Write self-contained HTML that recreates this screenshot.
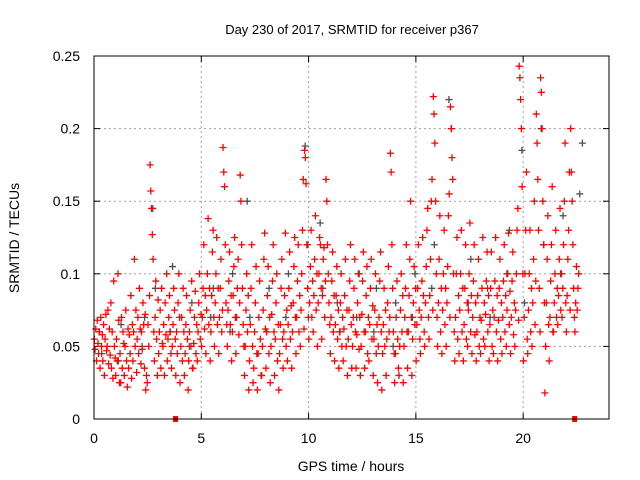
<!DOCTYPE html>
<html><head><meta charset="utf-8"><style>
html,body{margin:0;padding:0;background:#fff}
svg{display:block;font-family:"Liberation Sans",sans-serif}
</style></head><body>
<svg id="chart" width="640" height="480" viewBox="0 0 640 480">
<text x="352" y="34" font-size="13" text-anchor="middle" fill="#000">Day 230 of 2017, SRMTID for receiver p367</text>
<text x="351" y="471" font-size="14" text-anchor="middle">GPS time / hours</text>
<text transform="translate(19,238) rotate(-90)" font-size="14" text-anchor="middle">SRMTID / TECUs</text>
<g id="grid"></g>
<g id="ticks"></g>
<g id="grey"></g>
<g id="red"></g>
<rect x="94" y="56" width="515" height="363" fill="none" stroke="#000" stroke-width="1"/>
</svg>
<script>
const xTicks=[0,5,10,15,20];
const yTicks=[0,0.05,0.1,0.15,0.2,0.25];
const yTickLabels=["0","0.05","0.1","0.15","0.2","0.25"];
const markerHours=[3.8,22.4];
const redHours=[0.1,0.3,0.5,0.7,0.9,1.1,1.3,1.5,1.7,1.9,2.1,2.3,2.5,2.7,2.9,3.1,3.3,3.5,3.7,3.9,4.1,4.3,4.5,4.7,4.9,5.1,5.3,5.5,5.7,5.9,6.1,6.3,6.5,6.7,6.9,7.1,7.3,7.5,7.7,7.9,8.1,8.3,8.5,8.7,8.9,9.1,9.3,9.5,9.7,9.9,10.1,10.3,10.5,10.7,10.9,11.1,11.3,11.5,11.7,11.9,12.1,12.3,12.5,12.7,12.9,13.1,13.3,13.5,13.7,13.9,14.1,14.3,14.5,14.7,14.9,15.1,15.3,15.5,15.7,15.9,16.1,16.3,16.5,16.7,16.9,17.1,17.3,17.5,17.7,17.9,18.1,18.3,18.5,18.7,18.9,19.1,19.3,19.5,19.7,19.9,20.1,20.3,20.5,20.7,20.9,21.1,21.3,21.5,21.7,21.9,22.1,22.3,22.5,22.7,22.9];
const redValues=[
[0.055,0.048,0.062,0.04,0.068,0.052],[0.045,0.06,0.035,0.07,0.05,0.058],[0.04,0.065,0.03,0.055,0.072,0.047],[0.05,0.075,0.038,0.062,0.044,0.08],[0.035,0.06,0.028,0.095,0.05,0.042],
[0.03,0.055,0.04,0.1,0.068,0.025],[0.045,0.025,0.07,0.035,0.06,0.052],[0.03,0.05,0.075,0.04,0.022,0.062],[0.035,0.058,0.045,0.085,0.028,0.065],[0.04,0.06,0.11,0.05,0.075,0.032],
[0.055,0.07,0.045,0.09,0.062,0.038],[0.06,0.048,0.08,0.065,0.035,0.072],[0.02,0.03,0.025,0.065,0.05,0.085],[0.175,0.157,0.145,0.127,0.11,0.06],[0.04,0.07,0.095,0.055,0.03,0.082],
[0.045,0.06,0.075,0.035,0.09,0.052],[0.05,0.065,0.03,0.08,0.058,0.1],[0.04,0.055,0.07,0.085,0.06,0.045],[0.035,0.05,0.065,0.09,0.075,0.055],[0.03,0.06,0.045,0.08,0.1,0.07],
[0.025,0.05,0.07,0.04,0.09,0.06],[0.03,0.045,0.065,0.085,0.055,0.02],[0.04,0.06,0.075,0.05,0.095,0.035],[0.035,0.052,0.07,0.088,0.045,0.065],[0.04,0.06,0.08,0.1,0.055,0.072],
[0.05,0.07,0.09,0.12,0.062,0.085],[0.045,0.075,0.1,0.138,0.065,0.09],[0.04,0.06,0.085,0.115,0.13,0.07],[0.05,0.08,0.1,0.125,0.065,0.09],[0.045,0.07,0.09,0.11,0.06,0.075],
[0.187,0.17,0.16,0.12,0.08,0.065],[0.05,0.075,0.095,0.115,0.065,0.085],[0.04,0.06,0.085,0.105,0.125,0.07],[0.045,0.07,0.09,0.11,0.058,0.08],[0.168,0.15,0.12,0.09,0.065,0.05],
[0.03,0.05,0.075,0.1,0.06,0.085],[0.02,0.04,0.065,0.09,0.12,0.05],[0.025,0.035,0.06,0.08,0.105,0.045],[0.02,0.045,0.07,0.095,0.055,0.03],[0.03,0.05,0.075,0.11,0.128,0.062],
[0.035,0.06,0.085,0.105,0.045,0.07],[0.025,0.05,0.072,0.095,0.12,0.06],[0.03,0.055,0.08,0.1,0.04,0.065],[0.02,0.045,0.065,0.09,0.11,0.055],[0.035,0.06,0.085,0.128,0.05,0.075],
[0.04,0.065,0.09,0.115,0.055,0.078],[0.035,0.06,0.08,0.105,0.125,0.07],[0.045,0.07,0.095,0.12,0.06,0.085],[0.05,0.075,0.1,0.13,0.165,0.062],[0.185,0.18,0.162,0.12,0.09,0.07],
[0.055,0.08,0.105,0.13,0.07,0.095],[0.06,0.085,0.11,0.14,0.075,0.1],[0.05,0.08,0.1,0.125,0.12,0.09],[0.055,0.085,0.11,0.118,0.07,0.095],[0.165,0.15,0.12,0.1,0.08,0.065],
[0.045,0.07,0.095,0.115,0.06,0.085],[0.04,0.065,0.085,0.105,0.055,0.075],[0.035,0.06,0.08,0.1,0.05,0.07],[0.04,0.062,0.085,0.11,0.05,0.075],[0.03,0.055,0.075,0.095,0.12,0.065],
[0.035,0.05,0.07,0.09,0.11,0.06],
[0.035,0.058,0.08,0.1,0.048,0.07],[0.03,0.05,0.072,0.095,0.115,0.06],[0.035,0.06,0.085,0.105,0.045,0.07],[0.04,0.065,0.09,0.11,0.055,0.078],[0.03,0.055,0.075,0.1,0.045,0.065],
[0.025,0.05,0.07,0.095,0.115,0.06],[0.02,0.045,0.065,0.09,0.05,0.075],[0.03,0.055,0.08,0.105,0.06,0.07],[0.183,0.17,0.12,0.09,0.06,0.045],[0.025,0.045,0.07,0.095,0.055,0.035],
[0.03,0.05,0.075,0.1,0.06,0.085],[0.025,0.05,0.07,0.09,0.12,0.06],[0.035,0.06,0.085,0.11,0.15,0.07],[0.03,0.055,0.08,0.105,0.065,0.09],[0.04,0.065,0.09,0.12,0.075,0.055],
[0.045,0.07,0.095,0.125,0.085,0.06],[0.05,0.08,0.105,0.13,0.145,0.07],[0.055,0.085,0.11,0.15,0.165,0.075],[0.222,0.21,0.19,0.15,0.1,0.07],[0.05,0.08,0.11,0.14,0.06,0.09],
[0.045,0.075,0.1,0.13,0.065,0.09],[0.05,0.08,0.105,0.14,0.155,0.07],[0.215,0.2,0.18,0.165,0.1,0.06],[0.04,0.07,0.1,0.125,0.055,0.085],[0.045,0.075,0.1,0.13,0.06,0.09],
[0.04,0.065,0.09,0.12,0.055,0.08],[0.05,0.075,0.1,0.135,0.06,0.085],[0.045,0.07,0.095,0.12,0.058,0.08],
[0.04,0.06,0.085,0.11,0.05,0.07],[0.045,0.068,0.09,0.125,0.055,0.08],[0.05,0.072,0.095,0.115,0.06,0.085],
[0.04,0.065,0.09,0.115,0.05,0.075],[0.045,0.07,0.095,0.125,0.06,0.085],
[0.04,0.068,0.09,0.11,0.055,0.08],[0.045,0.07,0.095,0.12,0.06,0.085],[0.05,0.075,0.1,0.128,0.065,0.088],[0.045,0.07,0.095,0.115,0.058,0.08],[0.05,0.075,0.1,0.13,0.145,0.068],
[0.243,0.235,0.22,0.2,0.16,0.1],[0.04,0.07,0.1,0.13,0.17,0.055],[0.045,0.075,0.1,0.13,0.06,0.09],[0.05,0.08,0.11,0.15,0.065,0.095],[0.21,0.19,0.165,0.13,0.09,0.06],
[0.235,0.225,0.2,0.15,0.12,0.08],[0.018,0.05,0.08,0.11,0.14,0.065],[0.04,0.07,0.095,0.12,0.16,0.06],[0.06,0.08,0.1,0.13,0.07,0.09],[0.065,0.085,0.11,0.145,0.075,0.1],
[0.07,0.09,0.12,0.15,0.19,0.08],[0.06,0.085,0.11,0.13,0.17,0.075],[0.2,0.17,0.15,0.12,0.09,0.07],[0.06,0.08,0.105,0.075,0.09,0.1]
];
const greyHours=[0.3,1.2,2.3,2.8,3.6,4.5,5.5,6.4,7.2,8.1,9.0,9.9,10.6,11.4,12.3,13.1,14.0,14.9,15.8,16.6,17.5,18.4,19.3,20.0,20.9,21.8,22.7];
const greyValues=[
[0.06,0.045],[0.04,0.065],[0.05,0.07],[0.145,0.09],[0.06,0.105],[0.05,0.08],[0.07,0.09],[0.06,0.1],[0.15,0.07],[0.06,0.09],[0.07,0.1],[0.188,0.12],[0.135,0.09],[0.08,0.06],[0.07,0.1],[0.06,0.09],[0.05,0.08],[0.07,0.1],[0.09,0.12],[0.22,0.2],[0.08,0.11],[0.09,0.07],[0.1,0.13],[0.185,0.08],[0.2,0.12],[0.1,0.14],[0.155,0.19]
];
const X0=94,X1=609,Y0=419,Y1=56;
const xs=h=>X0+(X1-X0)*h/24;
const ys=v=>Y0-(Y0-Y1)*v/0.25;
const NS="http://www.w3.org/2000/svg";
function mk(tag,attrs,parent){const e=document.createElementNS(NS,tag);for(const k in attrs)e.setAttribute(k,attrs[k]);parent.appendChild(e);return e;}
const grid=document.getElementById('grid'),ticks=document.getElementById('ticks');
xTicks.forEach(t=>{
 if(t>0){const l=mk('line',{x1:xs(t),x2:xs(t),y1:Y1,y2:Y0,stroke:'#a0a0a0','stroke-dasharray':'2,3'},grid);
 
 }
 mk('line',{x1:xs(t),x2:xs(t),y1:Y0,y2:Y0-6,stroke:'#000'},ticks);
 mk('line',{x1:xs(t),x2:xs(t),y1:Y1,y2:Y1+6,stroke:'#000'},ticks);
 const tx=mk('text',{x:xs(t),y:Y0+24,'font-size':14,'text-anchor':'middle'},ticks);tx.textContent=t;
 
 
});
yTicks.forEach((t,i)=>{
 if(t>0&&t<0.25){const l=mk('line',{x1:X0,x2:X1,y1:ys(t),y2:ys(t),stroke:'#a0a0a0','stroke-dasharray':'2,3'},grid);
 
 }
 mk('line',{x1:X0,x2:X0+6,y1:ys(t),y2:ys(t),stroke:'#000'},ticks);
 mk('line',{x1:X1,x2:X1-6,y1:ys(t),y2:ys(t),stroke:'#000'},ticks);
 const tx=mk('text',{x:X0-14,y:ys(t)+5,'font-size':14,'text-anchor':'end'},ticks);tx.textContent=yTickLabels[i];
 
 
});
function plus(g,h,v,col,name){
 const x=xs(h),y=ys(v);
 const p=mk('path',{d:`M${x-3.5},${y}H${x+3.5}M${x},${y-3.5}V${y+3.5}`,stroke:col,'stroke-width':1.3,fill:'none'},g);
 
 
}
const gG=document.getElementById('grey'),gR=document.getElementById('red');
greyHours.forEach((h,i)=>(greyValues[i]||[]).forEach((v,j)=>plus(gG,h+(j-0.5)*0.12,v,'#505050','grey-point')));
redHours.forEach((h,i)=>(redValues[i]||[]).forEach((v,j)=>plus(gR,h+(j-2.5)*0.035,v,'#ff0000','red-point')));
markerHours.forEach(h=>{const r=mk('rect',{x:xs(h)-2.5,y:Y0-3,width:5,height:6,fill:'#ff0000'},ticks);
 
 });
</script>
</body></html>
